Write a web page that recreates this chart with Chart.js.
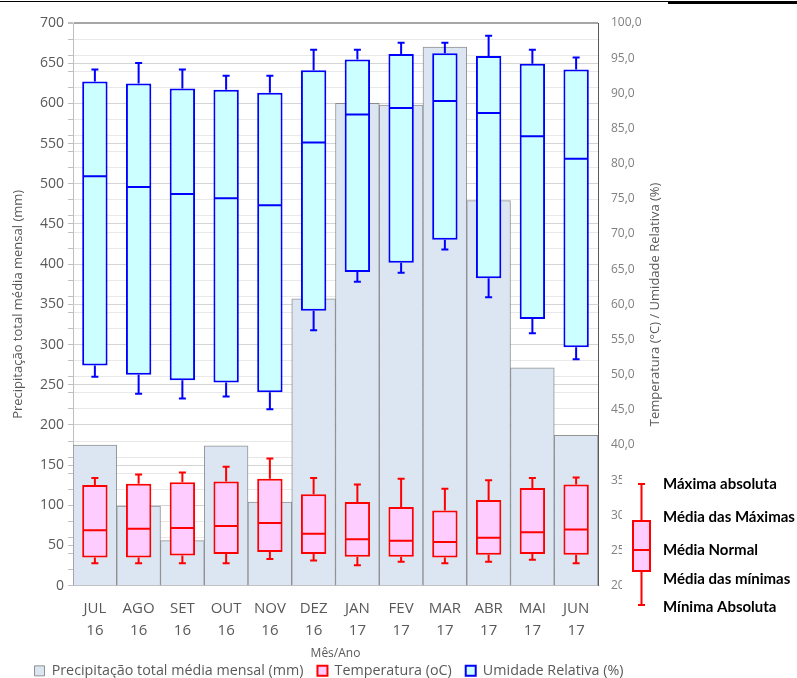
<!DOCTYPE html>
<html>
<head>
<meta charset="utf-8">
<script src="https://cdn.jsdelivr.net/npm/chart.js@4.4.0/dist/chart.umd.min.js"></script>
<style>
  html, body { margin: 0; padding: 0; background: #fff; }
  #wrap { width: 797px; height: 678px; position: relative; }
</style>
</head>
<body>
<div id="wrap"><canvas id="chart" width="797" height="678"></canvas></div>
<script>
// meses (eixo x)
const months = [["JUL","16"],["AGO","16"],["SET","16"],["OUT","16"],["NOV","16"],["DEZ","16"],
                ["JAN","17"],["FEV","17"],["MAR","17"],["ABR","17"],["MAI","17"],["JUN","17"]];

// precipitação total média mensal (mm)
const precip = [175, 99, 56, 174, 104, 357, 600, 598, 670, 479, 271, 187];

// temperatura (oC)
const tempMaxAbs = [35.3, 35.8, 36.1, 36.9, 38.1, 35.3, 34.4, 35.2, 33.8, 35.0, 35.3, 35.4];
const tempMaxAvg = [34.3, 34.5, 34.7, 34.8, 35.2, 33.0, 31.9, 31.2, 30.7, 32.2, 33.9, 34.4];
const tempMean   = [27.9, 28.1, 28.2, 28.5, 28.9, 27.4, 26.6, 26.4, 26.2, 26.8, 27.6, 28.0];
const tempMinAvg = [24.0, 24.0, 24.3, 24.5, 24.8, 24.5, 24.1, 24.1, 24.0, 24.4, 24.5, 24.4];
const tempMinAbs = [23.2, 23.2, 23.2, 23.2, 23.8, 23.6, 22.9, 23.4, 23.2, 23.4, 23.7, 23.2];

// umidade relativa (%)
const humMaxAbs = [93.4, 94.3, 93.4, 92.5, 92.5, 96.2, 96.2, 97.2, 97.2, 98.2, 96.2, 95.1];
const humMaxAvg = [91.7, 91.4, 90.7, 90.5, 90.1, 93.3, 94.8, 95.6, 95.7, 95.3, 94.2, 93.4];
const humMean   = [78.2, 76.7, 75.7, 75.1, 74.1, 83.0, 87.0, 87.9, 88.9, 87.2, 83.9, 80.7];
const humMinAvg = [51.3, 50.0, 49.2, 48.9, 47.5, 59.1, 64.6, 65.9, 69.2, 63.7, 57.9, 53.9];
const humMinAbs = [49.7, 47.3, 46.6, 46.9, 45.1, 56.3, 63.2, 64.5, 67.8, 61.0, 55.9, 52.2];

const FONT = "'Open Sans', sans-serif";
const GRAY = "#595959";

// bigodes e medianas das caixas
const whiskers = {
  id: "whiskers",
  afterDatasetsDraw(chart) {
    const ctx = chart.ctx;
    const x = chart.scales.x, y = chart.scales.y2;
    const sets = [
      { idx: 1, color: "#ff0000", hi: tempMaxAbs, q3: tempMaxAvg, med: tempMean, q1: tempMinAvg, lo: tempMinAbs },
      { idx: 2, color: "#0000ff", hi: humMaxAbs, q3: humMaxAvg, med: humMean, q1: humMinAvg, lo: humMinAbs },
    ];
    ctx.save();
    ctx.lineWidth = 2;
    sets.forEach(s => {
      const meta = chart.getDatasetMeta(s.idx);
      ctx.strokeStyle = s.color;
      s.med.forEach((m, i) => {
        const cx = x.getPixelForValue(i);
        const half = meta.data[i].width / 2;
        const cap = 3.5;
        ctx.beginPath();
        // mediana
        ctx.moveTo(cx - half + 1, y.getPixelForValue(m));
        ctx.lineTo(cx + half - 1, y.getPixelForValue(m));
        // bigode superior
        ctx.moveTo(cx, y.getPixelForValue(s.q3[i]));
        ctx.lineTo(cx, y.getPixelForValue(s.hi[i]));
        ctx.moveTo(cx - cap, y.getPixelForValue(s.hi[i]));
        ctx.lineTo(cx + cap, y.getPixelForValue(s.hi[i]));
        // bigode inferior
        ctx.moveTo(cx, y.getPixelForValue(s.q1[i]));
        ctx.lineTo(cx, y.getPixelForValue(s.lo[i]));
        ctx.moveTo(cx - cap, y.getPixelForValue(s.lo[i]));
        ctx.lineTo(cx + cap, y.getPixelForValue(s.lo[i]));
        ctx.stroke();
      });
    });
    ctx.restore();
  }
};

// título do eixo direito, linha do topo e quadro explicativo
const extras = {
  id: "extras",
  afterDraw(chart) {
    const ctx = chart.ctx;
    const area = chart.chartArea;
    ctx.save();
    // linha preta no topo
    ctx.fillStyle = "#000";
    ctx.fillRect(0, 1, 668, 1);
    ctx.fillRect(668, 1, 129, 3);

    // título eixo direito
    ctx.translate(655, (area.top + area.bottom) / 2);
    ctx.rotate(-Math.PI / 2);
    ctx.fillStyle = GRAY;
    ctx.font = "13px " + FONT;
    ctx.textAlign = "center";
    ctx.textBaseline = "middle";
    ctx.fillText("Temperatura (°C) / Umidade Relativa (%)", 0, 0);
    ctx.restore();

    // quadro explicativo
    ctx.save();
    ctx.fillStyle = "#fff";
    ctx.fillRect(622, 462, 175, 158);
    const cx = 641.5;
    ctx.strokeStyle = "#ff0000";
    ctx.lineWidth = 2;
    ctx.beginPath();
    ctx.moveTo(cx, 484); ctx.lineTo(cx, 521);
    ctx.moveTo(cx - 3.5, 484); ctx.lineTo(cx + 3.5, 484);
    ctx.moveTo(cx, 571); ctx.lineTo(cx, 605);
    ctx.moveTo(cx - 3.5, 605); ctx.lineTo(cx + 3.5, 605);
    ctx.stroke();
    ctx.fillStyle = "#ffccff";
    ctx.fillRect(633, 521, 17, 50);
    ctx.strokeRect(633, 521, 17, 50);
    ctx.beginPath();
    ctx.moveTo(633, 550); ctx.lineTo(650, 550);
    ctx.stroke();
    ctx.fillStyle = "#000";
    ctx.font = "bold 15px Lato, sans-serif";
    ctx.textBaseline = "middle";
    ctx.fillText("Máxima absoluta", 663, 484);
    ctx.fillText("Média das Máximas", 663, 517);
    ctx.fillText("Média Normal", 663, 550);
    ctx.fillText("Média das mínimas", 663, 579);
    ctx.fillText("Mínima Absoluta", 663, 607);
    ctx.restore();
  }
};

const leftGrid = v => {
  if (v % 50 === 0) return "#d4d4d4";
  if (v % 20 === 0) return "#e8e8e8";
  return "rgba(0,0,0,0)";
};

new Chart(document.getElementById("chart").getContext("2d"), {
  type: "bar",
  data: {
    labels: months,
    datasets: [
      {
        label: "Precipitação total média mensal (mm)",
        data: precip,
        yAxisID: "y",
        backgroundColor: "#dce6f2",
        borderColor: "rgba(120,120,120,0.8)",
        borderWidth: 1,
        barPercentage: 1,
        categoryPercentage: 1,
        grouped: false,
        order: 3,
      },
      {
        label: "Temperatura (oC)",
        data: tempMinAvg.map((v, i) => [v, tempMaxAvg[i]]),
        yAxisID: "y2",
        backgroundColor: "#ffccff",
        borderColor: "#ff0000",
        borderWidth: 2,
        borderSkipped: false,
        barPercentage: 0.58,
        categoryPercentage: 1,
        grouped: false,
        order: 2,
      },
      {
        label: "Umidade Relativa (%)",
        data: humMinAvg.map((v, i) => [v, humMaxAvg[i]]),
        yAxisID: "y2",
        backgroundColor: "#ccffff",
        borderColor: "#0000ff",
        borderWidth: 2,
        borderSkipped: false,
        barPercentage: 0.58,
        categoryPercentage: 1,
        grouped: false,
        order: 1,
      },
    ],
  },
  options: {
    responsive: false,
    animation: false,
    layout: { padding: { left: 0, right: 139, top: 23, bottom: -10 } },
    plugins: {
      tooltip: { enabled: false },
      legend: {
        position: "bottom",
        labels: {
          boxWidth: 10,
          boxHeight: 10,
          padding: 14,
          color: GRAY,
          font: { family: FONT, size: 14.3 },
          sort: (a, b) => a.datasetIndex - b.datasetIndex,
        },
      },
    },
    scales: {
      x: {
        afterFit: s => { s.height = 64; },
        grid: { drawOnChartArea: false, drawTicks: false },
        border: { color: "#bfbfbf" },
        ticks: { color: GRAY, font: { family: FONT, size: 15, lineHeight: 1.45 }, padding: 12, maxRotation: 0 },
        title: { display: true, text: "Mês/Ano", color: GRAY, font: { family: FONT, size: 12 }, padding: { top: 2, bottom: -11 } },
      },
      y: {
        position: "left",
        min: 0,
        max: 700,
        afterFit: s => { s.width = 73; },
        ticks: {
          stepSize: 10,
          autoSkip: false,
          color: GRAY,
          font: { family: FONT, size: 14 },
          padding: 4,
          callback: v => (Math.round(v) % 50 === 0 ? Math.round(v) : ""),
        },
        grid: {
          color: c => (Math.round(c.tick.value) === 700 ? "#a6a6a6" : leftGrid(Math.round(c.tick.value))),
          lineWidth: c => (Math.round(c.tick.value) === 700 ? 2 : 1),
          tickColor: c => (Math.round(c.tick.value) % 50 === 0 || Math.round(c.tick.value) % 20 === 0 ? "#bfbfbf" : "rgba(0,0,0,0)"),
          tickLength: 5,
        },
        border: { color: "#bfbfbf" },
        title: { display: true, text: "Precipitação total média mensal (mm)", color: GRAY, font: { family: FONT, size: 13 }, padding: { top: 10, bottom: 0 } },
      },
      y2: {
        position: "right",
        min: 20,
        max: 100,
        afterFit: s => { s.width = 60; },
        ticks: {
          stepSize: 5,
          color: "#808080",
          font: { family: FONT, size: 12 },
          padding: 13,
          callback: v => v.toFixed(1).replace(".", ","),
        },
        grid: { drawOnChartArea: false, drawTicks: false },
        border: { color: "#595959" },
      },
    },
  },
  plugins: [whiskers, extras],
});
</script>
</body>
</html>
